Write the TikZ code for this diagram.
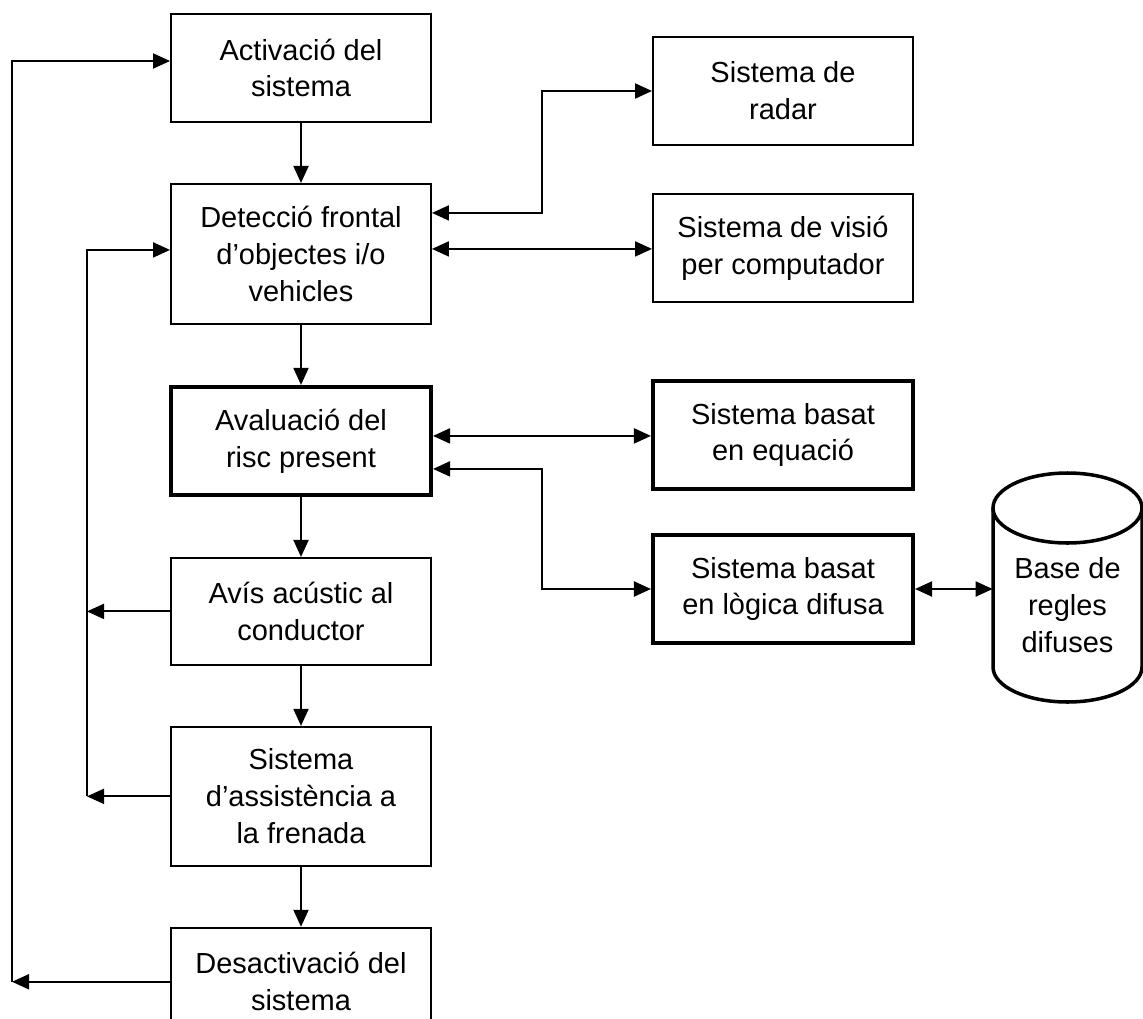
\documentclass[tikz,border=0pt]{standalone}
\usepackage{fontspec}
\setmainfont{Liberation Sans}
\usetikzlibrary{positioning,arrows.meta}

\tikzset{
	caixa/.style={draw, line width=1.1pt, minimum width=5.2cm, align=center, inner sep=0pt, font=\fontsize{16.5}{21}\selectfont},
	caixagruixuda/.style={caixa, line width=2.3pt},
	fletxa/.style={line width=1.1pt, -{Triangle[length=0.34cm,width=0.3cm]}},
	doble/.style={line width=1.1pt, {Triangle[length=0.34cm,width=0.3cm]}-{Triangle[length=0.34cm,width=0.3cm]}},
}

\begin{document}
\begin{tikzpicture}
\useasboundingbox (0,0) rectangle (22.86,-20.38);

\pgfmathsetmacro{\colA}{6.02}
\pgfmathsetmacro{\colB}{15.66}
\pgfmathsetmacro{\colMig}{10.84}
\pgfmathsetmacro{\llacA}{1.74}
\pgfmathsetmacro{\llacB}{0.24}

\node[caixa, minimum height=2.16cm] (activacio) at (\colA,-1.36) {Activació del\\sistema};
\node[caixa, minimum height=2.8cm, below=1.2cm of activacio] (deteccio) {Detecció frontal\\d’objectes i/o\\vehicles};
\node[caixagruixuda, minimum height=2.16cm, below=1.2cm of deteccio] (avaluacio) {Avaluació del\\risc present};
\node[caixa, minimum height=2.14cm, below=1.2cm of avaluacio] (avis) {Avís acústic al\\conductor};
\node[caixa, minimum height=2.78cm, below=1.2cm of avis] (assistencia) {Sistema\\d’assistència a\\la frenada};
\node[caixa, minimum height=2.16cm, below=1.2cm of assistencia] (desactivacio) {Desactivació del\\sistema};

\node[caixa, minimum height=2.16cm] (radar) at (\colB,-1.82) {Sistema de\\radar};
\node[caixa, minimum height=2.16cm] (visio) at (\colB,-4.96) {Sistema de visió\\per computador};
\node[caixagruixuda, minimum height=2.16cm] (equacio) at (\colB,-8.7) {Sistema basat\\en equació};
\node[caixagruixuda, minimum height=2.16cm] (difusa) at (\colB,-11.78) {Sistema basat\\en lògica difusa};

\draw[line width=2pt] (21.35,-10.16) ellipse [x radius=1.49, y radius=0.7];
\draw[line width=2pt] (19.86,-10.16) -- (19.86,-13.34) arc[start angle=180, end angle=360, x radius=1.49, y radius=0.7] -- (22.84,-10.16);
\node[align=center, inner sep=0pt, minimum width=2.98cm, font=\fontsize{16.5}{21}\selectfont] (regles) at (21.35,-12.1) {Base de\\regles\\difuses};

\coordinate (mig) at (\colMig,0);
\coordinate (llacA) at (\llacA,0);
\coordinate (llacB) at (\llacB,0);

\draw[fletxa] (activacio) -- (deteccio);
\draw[fletxa] (deteccio) -- (avaluacio);
\draw[fletxa] (avaluacio) -- (avis);
\draw[fletxa] (avis) -- (assistencia);
\draw[fletxa] (assistencia) -- (desactivacio);

\draw[doble] ([yshift=0.82cm]deteccio.east) -| (mig |- radar.west) -- (radar.west);
\draw[doble] ([yshift=0.1cm]deteccio.east) -- ([yshift=0.1cm]deteccio.east -| visio.west);
\draw[doble] ([yshift=0.1cm]avaluacio.east) -- ([yshift=0.1cm]avaluacio.east -| equacio.west);
\draw[doble] ([yshift=-0.56cm]avaluacio.east) -| (mig |- difusa.west) -- (difusa.west);
\draw[doble] (difusa.east) -- (difusa.east -| regles.west);

\draw[fletxa] (avis.west) -- (llacA |- avis.west);
\draw[fletxa] (assistencia.west) -- (llacA |- assistencia.west);
\draw[fletxa] (llacA |- assistencia.west) |- ([yshift=0.08cm]deteccio.west);
\draw[fletxa] (desactivacio.west) -- (llacB |- desactivacio.west);
\draw[fletxa] (llacB |- desactivacio.west) |- ([yshift=0.14cm]activacio.west);
\end{tikzpicture}
\end{document}
